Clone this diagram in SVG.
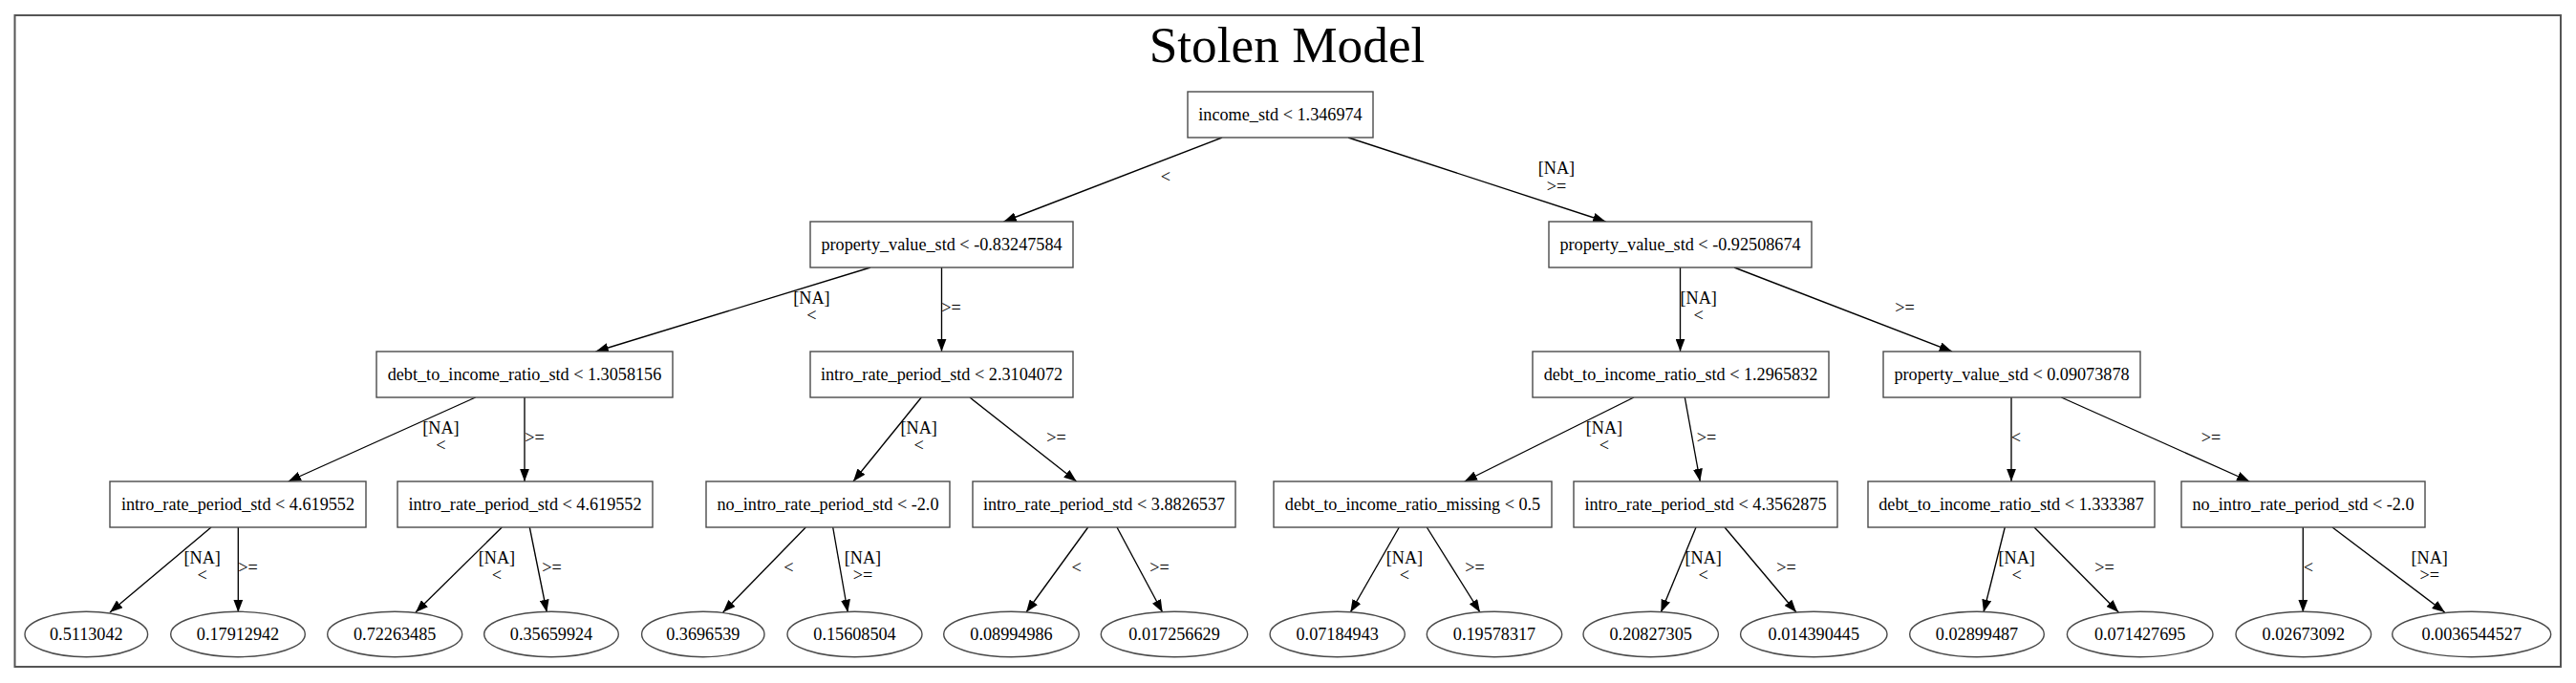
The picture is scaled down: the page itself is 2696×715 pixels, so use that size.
<svg xmlns="http://www.w3.org/2000/svg" width="2696" height="715" viewBox="0 0 2696 715">
<style>
text{font-family:"Liberation Serif","Times New Roman",serif;font-size:18.2px;fill:#000;text-anchor:middle}
.title{font-size:53.3px}
.box{fill:#fff;stroke:#4a4a4a;stroke-width:1.4}
.leaf{fill:#fff;stroke:#4a4a4a;stroke-width:1.4}
.e{stroke:#000;stroke-width:1.35;fill:none;marker-end:url(#arr)}
.frame{fill:#fff;stroke:#555;stroke-width:2}
</style>
<defs>
<marker id="arr" markerUnits="userSpaceOnUse" markerWidth="14" markerHeight="10" viewBox="0 0 14 10" refX="13.3" refY="5" orient="auto">
<path d="M0,0 L13.3,5 L0,10 z" fill="#000"/>
</marker>
</defs>
<rect x="0" y="0" width="2696" height="715" fill="#fff"/>
<rect class="frame" x="15.5" y="16" width="2664.5" height="682"/>
<text class="title" x="1347" y="65">Stolen Model</text>

<g id="connectors">
<line class="e" x1="1279" y1="144" x2="1050.5" y2="232"/>
<line class="e" x1="1411" y1="144" x2="1680.5" y2="232"/>
<line class="e" x1="911" y1="280" x2="623.5" y2="368"/>
<line class="e" x1="985.5" y1="280" x2="985.5" y2="368"/>
<line class="e" x1="1758.5" y1="280" x2="1758.5" y2="368"/>
<line class="e" x1="1815" y1="280" x2="2043" y2="368"/>
<line class="e" x1="497.7" y1="416" x2="301.7" y2="504"/>
<line class="e" x1="549" y1="416" x2="549" y2="504"/>
<line class="e" x1="964.3" y1="416" x2="893" y2="504"/>
<line class="e" x1="1015" y1="416" x2="1126.7" y2="504"/>
<line class="e" x1="1710" y1="416" x2="1532.7" y2="504"/>
<line class="e" x1="1763.3" y1="416" x2="1779.3" y2="504"/>
<line class="e" x1="2105" y1="416" x2="2105" y2="504"/>
<line class="e" x1="2157.3" y1="416" x2="2354.3" y2="504"/>
<line class="e" x1="221" y1="552" x2="115" y2="641"/>
<line class="e" x1="249.3" y1="552" x2="249.3" y2="641"/>
<line class="e" x1="525.3" y1="552" x2="435" y2="641"/>
<line class="e" x1="554.3" y1="552" x2="572.3" y2="641"/>
<line class="e" x1="843.3" y1="552" x2="756.7" y2="641"/>
<line class="e" x1="871.7" y1="552" x2="887.3" y2="641"/>
<line class="e" x1="1138.7" y1="552" x2="1074" y2="641"/>
<line class="e" x1="1169" y1="552" x2="1216.7" y2="641"/>
<line class="e" x1="1464.3" y1="552" x2="1413.3" y2="641"/>
<line class="e" x1="1493.3" y1="552" x2="1549" y2="641"/>
<line class="e" x1="1775" y1="552" x2="1738.3" y2="641"/>
<line class="e" x1="1805" y1="552" x2="1880" y2="641"/>
<line class="e" x1="2098.3" y1="552" x2="2076" y2="641"/>
<line class="e" x1="2129" y1="552" x2="2217.3" y2="641"/>
<line class="e" x1="2410.3" y1="552" x2="2410.3" y2="641"/>
<line class="e" x1="2441" y1="552" x2="2558.7" y2="641"/>

<text x="1220" y="191">&lt;</text>
<text x="1629" y="182">[NA]</text><text x="1629" y="201">&gt;=</text>

<text x="849.5" y="318">[NA]</text><text x="849.5" y="336">&lt;</text>
<text x="995.5" y="327.5">&gt;=</text>
<text x="1777.7" y="318">[NA]</text><text x="1777.7" y="336">&lt;</text>
<text x="1993.5" y="327.5">&gt;=</text>

<text x="461.5" y="454">[NA]</text><text x="461.5" y="472">&lt;</text>
<text x="559.5" y="463.5">&gt;=</text>
<text x="961.7" y="454">[NA]</text><text x="961.7" y="472">&lt;</text>
<text x="1105.5" y="463.5">&gt;=</text>
<text x="1679" y="454">[NA]</text><text x="1679" y="472">&lt;</text>
<text x="1786" y="463.5">&gt;=</text>
<text x="2110" y="463.5">&lt;</text>
<text x="2314" y="463.5">&gt;=</text>

<text x="211.7" y="590">[NA]</text><text x="211.7" y="608">&lt;</text>
<text x="259.5" y="599.5">&gt;=</text>
<text x="520" y="590">[NA]</text><text x="520" y="608">&lt;</text>
<text x="577.5" y="599.5">&gt;=</text>
<text x="825.3" y="599.5">&lt;</text>
<text x="903" y="590">[NA]</text><text x="903" y="608">&gt;=</text>
<text x="1126.7" y="599.5">&lt;</text>
<text x="1213.5" y="599.5">&gt;=</text>
<text x="1470" y="590">[NA]</text><text x="1470" y="608">&lt;</text>
<text x="1543.5" y="599.5">&gt;=</text>
<text x="1782.7" y="590">[NA]</text><text x="1782.7" y="608">&lt;</text>
<text x="1869.5" y="599.5">&gt;=</text>
<text x="2110.7" y="590">[NA]</text><text x="2110.7" y="608">&lt;</text>
<text x="2202.5" y="599.5">&gt;=</text>
<text x="2416" y="599.5">&lt;</text>
<text x="2542.7" y="590">[NA]</text><text x="2542.7" y="608">&gt;=</text>
</g>

<g id="n0"><rect class="box" x="1243" y="96" width="194" height="48"/><text x="1340" y="125.5">income_std &lt; 1.346974</text></g>

<g id="n1"><rect class="box" x="848" y="232" width="275" height="48"/><text x="985.5" y="261.5">property_value_std &lt; -0.83247584</text></g>
<g id="n2"><rect class="box" x="1621" y="232" width="275" height="48"/><text x="1758.5" y="261.5">property_value_std &lt; -0.92508674</text></g>

<g id="n3"><rect class="box" x="394" y="368" width="310" height="48"/><text x="549" y="397.5">debt_to_income_ratio_std &lt; 1.3058156</text></g>
<g id="n4"><rect class="box" x="848" y="368" width="275" height="48"/><text x="985.5" y="397.5">intro_rate_period_std &lt; 2.3104072</text></g>
<g id="n5"><rect class="box" x="1604" y="368" width="310" height="48"/><text x="1759" y="397.5">debt_to_income_ratio_std &lt; 1.2965832</text></g>
<g id="n6"><rect class="box" x="1971" y="368" width="269" height="48"/><text x="2105.5" y="397.5">property_value_std &lt; 0.09073878</text></g>

<g id="n7"><rect class="box" x="115" y="504" width="268" height="48"/><text x="249" y="533.5">intro_rate_period_std &lt; 4.619552</text></g>
<g id="n8"><rect class="box" x="416" y="504" width="267" height="48"/><text x="549.5" y="533.5">intro_rate_period_std &lt; 4.619552</text></g>
<g id="n9"><rect class="box" x="739" y="504" width="255" height="48"/><text x="866.5" y="533.5">no_intro_rate_period_std &lt; -2.0</text></g>
<g id="n10"><rect class="box" x="1018" y="504" width="275" height="48"/><text x="1155.5" y="533.5">intro_rate_period_std &lt; 3.8826537</text></g>
<g id="n11"><rect class="box" x="1333" y="504" width="291" height="48"/><text x="1478.5" y="533.5">debt_to_income_ratio_missing &lt; 0.5</text></g>
<g id="n12"><rect class="box" x="1647" y="504" width="276" height="48"/><text x="1785" y="533.5">intro_rate_period_std &lt; 4.3562875</text></g>
<g id="n13"><rect class="box" x="1955" y="504" width="300" height="48"/><text x="2105" y="533.5">debt_to_income_ratio_std &lt; 1.333387</text></g>
<g id="n14"><rect class="box" x="2283" y="504" width="255" height="48"/><text x="2410.5" y="533.5">no_intro_rate_period_std &lt; -2.0</text></g>

<g id="l1"><ellipse class="leaf" cx="90.3" cy="664" rx="64.3" ry="23.7"/><text x="90.3" y="669.5">0.5113042</text></g>
<g id="l2"><ellipse class="leaf" cx="249" cy="664" rx="70.3" ry="23.7"/><text x="249" y="669.5">0.17912942</text></g>
<g id="l3"><ellipse class="leaf" cx="413.2" cy="664" rx="70.5" ry="23.7"/><text x="413.2" y="669.5">0.72263485</text></g>
<g id="l4"><ellipse class="leaf" cx="577" cy="664" rx="70.3" ry="23.7"/><text x="577" y="669.5">0.35659924</text></g>
<g id="l5"><ellipse class="leaf" cx="735.8" cy="664" rx="64.2" ry="23.7"/><text x="735.8" y="669.5">0.3696539</text></g>
<g id="l6"><ellipse class="leaf" cx="894.5" cy="664" rx="70.5" ry="23.7"/><text x="894.5" y="669.5">0.15608504</text></g>
<g id="l7"><ellipse class="leaf" cx="1058.5" cy="664" rx="70.8" ry="23.7"/><text x="1058.5" y="669.5">0.08994986</text></g>
<g id="l8"><ellipse class="leaf" cx="1229" cy="664" rx="76.7" ry="23.7"/><text x="1229" y="669.5">0.017256629</text></g>
<g id="l9"><ellipse class="leaf" cx="1399.7" cy="664" rx="70.6" ry="23.7"/><text x="1399.7" y="669.5">0.07184943</text></g>
<g id="l10"><ellipse class="leaf" cx="1564" cy="664" rx="70.7" ry="23.7"/><text x="1564" y="669.5">0.19578317</text></g>
<g id="l11"><ellipse class="leaf" cx="1727.7" cy="664" rx="70.7" ry="23.7"/><text x="1727.7" y="669.5">0.20827305</text></g>
<g id="l12"><ellipse class="leaf" cx="1898.3" cy="664" rx="76.7" ry="23.7"/><text x="1898.3" y="669.5">0.014390445</text></g>
<g id="l13"><ellipse class="leaf" cx="2069" cy="664" rx="70.3" ry="23.7"/><text x="2069" y="669.5">0.02899487</text></g>
<g id="l14"><ellipse class="leaf" cx="2239.7" cy="664" rx="76.3" ry="23.7"/><text x="2239.7" y="669.5">0.071427695</text></g>
<g id="l15"><ellipse class="leaf" cx="2410.8" cy="664" rx="70.8" ry="23.7"/><text x="2410.8" y="669.5">0.02673092</text></g>
<g id="l16"><ellipse class="leaf" cx="2586.7" cy="664" rx="83" ry="23.7"/><text x="2586.7" y="669.5">0.0036544527</text></g>
</svg>
